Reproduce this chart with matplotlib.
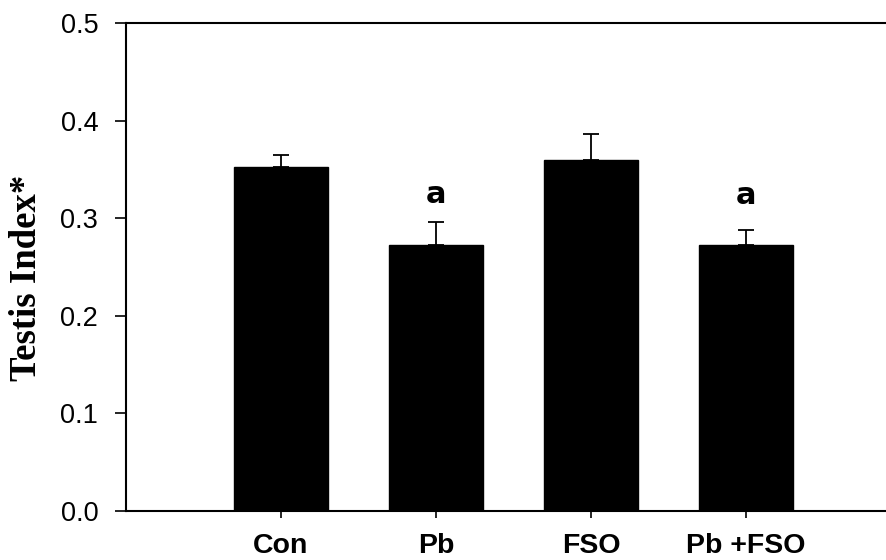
import matplotlib
matplotlib.use("Agg")
import matplotlib.pyplot as plt

categories = ["Con", "Pb", "FSO", "Pb +FSO"]
means = [0.352, 0.272, 0.360, 0.272]
errors = [0.013, 0.024, 0.026, 0.016]
sig_labels = ["", "a", "", "a"]
sig_y = [None, 0.324, None, 0.323]
yticks = [0.0, 0.1, 0.2, 0.3, 0.4, 0.5]

fig = plt.figure(figsize=(8.86, 5.60), dpi=100)
ax = fig.add_axes([0.1422, 0.088, 1 - 0.1422, 0.959 - 0.088])

x = [1, 2, 3, 4]
ax.bar(x, means, width=0.61, color="black", edgecolor="black", zorder=2)
ax.errorbar(x, means, yerr=[[0] * 4, errors], fmt="none", ecolor="black",
            elinewidth=1.3, capsize=6, capthick=1.3, zorder=3)
for xi, lab, yv in zip(x, sig_labels, sig_y):
    if lab:
        ax.text(xi, yv, lab, ha="center", va="center", fontsize=22,
                fontweight="bold", family="DejaVu Sans")

ax.set_xlim(0, 760 / 155)
ax.set_ylim(0, 0.5)
ax.set_yticks(yticks)
ax.set_yticklabels([f"{v:.1f}" for v in yticks], fontsize=19.5, family="Liberation Sans")
ax.set_xticks(x)
ax.set_xticklabels(categories, fontsize=20.5, fontweight="bold", family="Liberation Sans")
ax.tick_params(axis="y", direction="out", length=8, width=1.2, pad=12)
ax.tick_params(axis="x", direction="out", length=5, width=1.2, pad=11)
for s in ["left", "bottom", "top"]:
    ax.spines[s].set_linewidth(1.5)
ax.spines["right"].set_visible(False)
ax.set_ylabel("Testis Index*", fontsize=26.5, fontweight="bold", family="Liberation Serif")
ax.yaxis.set_label_coords(-0.108, 0.477)

fig.savefig("out.png", dpi=100)
